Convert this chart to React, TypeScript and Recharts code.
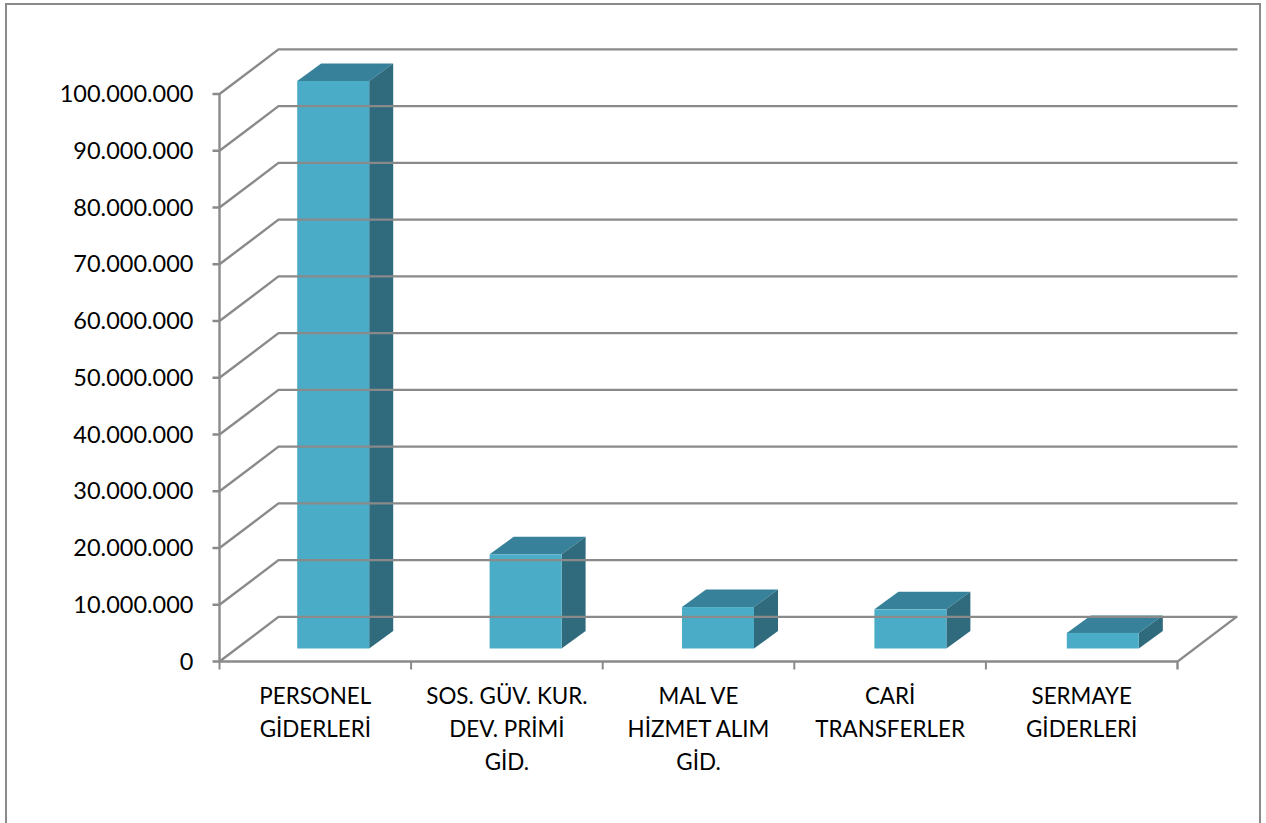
import { BarChart, Bar, XAxis, YAxis } from "recharts";

const CATEGORIES = [
  "PERSONEL\nGİDERLERİ",
  "SOS. GÜV. KUR.\nDEV. PRİMİ\nGİD.",
  "MAL VE\nHİZMET ALIM\nGİD.",
  "CARİ\nTRANSFERLER",
  "SERMAYE\nGİDERLERİ",
];
const VALUES = [100000000, 16600000, 7300000, 6900000, 2750000];
const Y_TICKS = [0, 10000000, 20000000, 30000000, 40000000, 50000000, 60000000, 70000000, 80000000, 90000000, 100000000];

const chartData = CATEGORIES.map((name, i) => ({ name, value: VALUES[i] }));

const WIDTH = 1266;
const HEIGHT = 823;
const PLOT_LEFT = 219.5;
const PLOT_RIGHT = 1177.5;
const PLOT_TOP = 94;
const PLOT_BOTTOM = 661.5;
const STEP = (PLOT_RIGHT - PLOT_LEFT) / CATEGORIES.length;

// fake 3D: how far the back wall sits from the front plane
const WALL_DX = 59;
const WALL_DY = 44.6;
const AXIS = "#8a8a8a";
const FONT = "Lato, sans-serif";

const formatNumber = (v: number) => String(v).replace(/\B(?=(\d{3})+$)/g, ".");

const YTick = ({ y, payload }: any) => {
  const axisX = PLOT_LEFT;
  return (
    <g>
      <path
        d={`M${axisX - 7} ${y} H${axisX} L${axisX + WALL_DX} ${y - WALL_DY} H${PLOT_RIGHT + WALL_DX + 1}`}
        fill="none"
        stroke={AXIS}
        strokeWidth={2.4}
      />
      <text x={193.5} y={y + 8} textAnchor="end" fontFamily={FONT} fontSize={23.5} fill="#000">
        {formatNumber(payload.value)}
      </text>
    </g>
  );
};

const XTick = ({ x, payload, index }: any) => {
  const lines = String(payload.value).split("\n");
  const left = x - STEP / 2;
  const isLast = index === CATEGORIES.length - 1;
  return (
    <g>
      <line x1={left} x2={left} y1={PLOT_BOTTOM} y2={PLOT_BOTTOM + 8} stroke={AXIS} strokeWidth={2} />
      {isLast && (
        <path
          d={`M${PLOT_RIGHT} ${PLOT_BOTTOM + 8} V${PLOT_BOTTOM} L${PLOT_RIGHT + WALL_DX} ${PLOT_BOTTOM - WALL_DY}`}
          fill="none"
          stroke={AXIS}
          strokeWidth={2.4}
        />
      )}
      <text textAnchor="middle" fontFamily={FONT} fontSize={22.4} fill="#000">
        {lines.map((line, i) => (
          <tspan key={i} x={x} y={704 + i * 33}>
            {line}
          </tspan>
        ))}
      </text>
    </g>
  );
};

const Bar3D = ({ x, y, width, height, index }: any) => {
  // bars stand a little inside the floor, and drift right with the perspective
  const fx = x + 17.7 + index * 0.8;
  const fy = y - 13;
  const dx = 24;
  const dy = 17.5;
  return (
    <g>
      <path d={`M${fx} ${fy} l${dx} ${-dy} h${width} l${-dx} ${dy} Z`} fill="#37829a" />
      <path d={`M${fx + width} ${fy} l${dx} ${-dy} v${height} l${-dx} ${dy} Z`} fill="#2f6b7d" />
      <rect x={fx} y={fy} width={width} height={height} fill="#4aacc7" />
    </g>
  );
};

const App = () => {
  return (
    <div style={{ position: "absolute", left: 0, top: 0, width: WIDTH, height: HEIGHT, overflow: "hidden", background: "#fff" }}>
      <div
        style={{
          position: "absolute",
          left: 5,
          top: 3,
          width: 1252,
          height: 830,
          border: "2px solid #8a8a8a",
        }}
      />
      <div style={{ position: "absolute", left: 0, top: 0 }}>
        <BarChart
          width={WIDTH}
          height={HEIGHT}
          data={chartData}
          margin={{ top: PLOT_TOP, right: WIDTH - PLOT_RIGHT, bottom: 0, left: 0 }}
        >
          <XAxis
            dataKey="name"
            height={HEIGHT - PLOT_BOTTOM}
            interval={0}
            tickLine={false}
            axisLine={{ stroke: AXIS, strokeWidth: 2.4 }}
            tick={<XTick />}
          />
          <YAxis
            width={PLOT_LEFT}
            domain={[0, 100000000]}
            ticks={Y_TICKS}
            interval={0}
            tickLine={false}
            axisLine={{ stroke: AXIS, strokeWidth: 2.4 }}
            tick={<YTick />}
          />
          <Bar dataKey="value" barSize={72} shape={<Bar3D />} isAnimationActive={false} />
        </BarChart>
      </div>
    </div>
  );
};

export default App;
